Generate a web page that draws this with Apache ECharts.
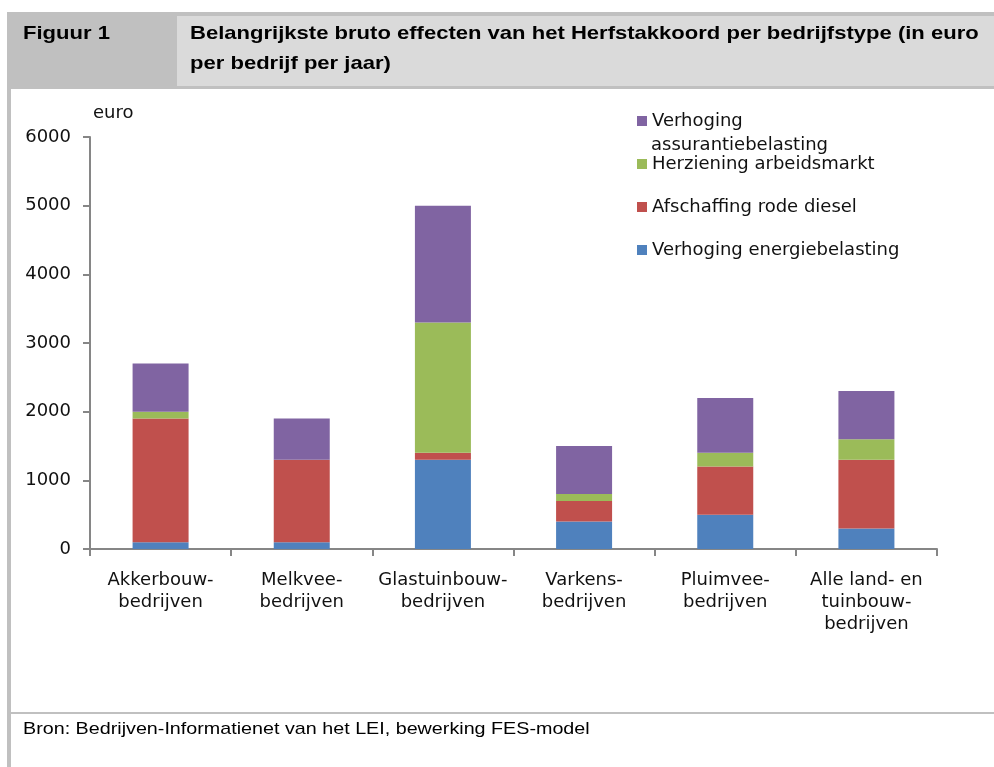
<!DOCTYPE html>
<html>
<head>
<meta charset="utf-8">
<script src="https://cdn.jsdelivr.net/npm/echarts@6/dist/echarts.min.js"></script>
<style>
  html, body { margin: 0; padding: 0; background: #fff; }
  #chart { width: 994px; height: 767px; }
</style>
</head>
<body>
<div id="chart"></div>
<script>
// categorieen (x-as)
const categories = [
  'Akkerbouw-\nbedrijven',
  'Melkvee-\nbedrijven',
  'Glastuinbouw-\nbedrijven',
  'Varkens-\nbedrijven',
  'Pluimvee-\nbedrijven',
  'Alle land- en\ntuinbouw-\nbedrijven'
];

// waarden in euro per bedrijf per jaar
const energiebelasting = [100, 100, 1300, 400, 500, 300];
const rodeDiesel = [1800, 1200, 100, 300, 700, 1000];
const arbeidsmarkt = [100, 0, 1900, 100, 200, 300];
const assurantiebelasting = [700, 600, 1700, 700, 800, 700];

const seriesNames = [
  'Verhoging energiebelasting',
  'Afschaffing rode diesel',
  'Herziening arbeidsmarkt',
  'Verhoging assurantiebelasting'
];
const yTicks = [0, 1000, 2000, 3000, 4000, 5000, 6000];

const colors = ['#4f81bd', '#c0504d', '#9bbb59', '#8064a2'];
const axisFont = 'DejaVu Sans, Verdana, sans-serif';
const headFont = 'Liberation Sans, Arial, sans-serif';

const chart = echarts.init(document.getElementById('chart'), null, { renderer: 'canvas' });

// losse legenda per item, zodat de posities overeenkomen met het origineel
function legendItem(name, centerY, label) {
  return {
    data: [name],
    left: 637,
    top: centerY - 11,
    padding: 0,
    orient: 'vertical',
    itemWidth: 10,
    itemHeight: 10,
    icon: 'rect',
    selectedMode: false,
    formatter: label || '{name}',
    textStyle: { fontFamily: axisFont, fontSize: 18, color: '#111', lineHeight: 22 }
  };
}

const seriesData = [energiebelasting, rodeDiesel, arbeidsmarkt, assurantiebelasting];

const option = {
  animation: false,
  backgroundColor: '#fff',
  color: colors,
  graphic: [
    // kopbalk
    { type: 'rect', shape: { x: 7, y: 12, width: 987, height: 77 }, style: { fill: '#c0c0c0' }, silent: true, z: -10 },
    { type: 'rect', shape: { x: 177, y: 16, width: 817, height: 70 }, style: { fill: '#dadada' }, silent: true, z: -9 },
    // linker rand
    { type: 'rect', shape: { x: 7, y: 89, width: 4, height: 678 }, style: { fill: '#c0c0c0' }, silent: true, z: -10 },
    // scheidingslijn bron
    { type: 'rect', shape: { x: 11, y: 712, width: 983, height: 2 }, style: { fill: '#c0c0c0' }, silent: true, z: -10 },
    // koptekst
    {
      type: 'text', x: 23, y: 34, scaleX: 1.16, silent: true,
      style: { text: 'Figuur 1', fontFamily: headFont, fontWeight: 'bold', fontSize: 19, fill: '#000', verticalAlign: 'middle' }
    },
    {
      type: 'text', x: 190, y: 19, scaleX: 1.16, silent: true,
      style: {
        text: 'Belangrijkste bruto effecten van het Herfstakkoord per bedrijfstype (in euro\nper bedrijf per jaar)',
        fontFamily: headFont, fontWeight: 'bold', fontSize: 19, lineHeight: 30, fill: '#000', verticalAlign: 'top'
      }
    },
    // bron
    {
      type: 'text', x: 23, y: 729, scaleX: 1.16, silent: true,
      style: { text: 'Bron: Bedrijven-Informatienet van het LEI, bewerking FES-model', fontFamily: headFont, fontSize: 17, fill: '#000', verticalAlign: 'middle' }
    },
    // tweede regel legenda
    {
      type: 'text', x: 651, y: 145, silent: true,
      style: { text: 'assurantiebelasting', fontFamily: axisFont, fontSize: 18, fill: '#111', verticalAlign: 'middle' }
    }
  ],
  legend: [
    legendItem(seriesNames[3], 121, 'Verhoging'),
    legendItem(seriesNames[2], 164),
    legendItem(seriesNames[1], 207),
    legendItem(seriesNames[0], 250)
  ],
  grid: { left: 90, right: 57, top: 137, bottom: 218 },
  xAxis: {
    type: 'category',
    data: categories,
    axisLine: { lineStyle: { color: '#868686', width: 2 } },
    axisTick: { show: true, length: 7, lineStyle: { color: '#868686', width: 2 } },
    axisLabel: {
      fontFamily: axisFont, fontSize: 18, color: '#111', lineHeight: 22,
      margin: 20, interval: 0
    }
  },
  yAxis: {
    type: 'value',
    min: yTicks[0],
    max: yTicks[yTicks.length - 1],
    interval: 1000,
    name: 'euro',
    nameLocation: 'end',
    nameGap: 15,
    nameTextStyle: { fontFamily: axisFont, fontSize: 18, color: '#111', align: 'left', padding: [0, 0, 0, 3] },
    splitLine: { show: false },
    axisLine: { show: true, lineStyle: { color: '#868686', width: 2 } },
    axisTick: { show: true, length: 7, lineStyle: { color: '#868686', width: 2 } },
    axisLabel: {
      fontFamily: axisFont, fontSize: 18, color: '#111', margin: 19,
      formatter: function (v) { return String(v); }
    }
  },
  series: seriesNames.map(function (name, i) {
    return {
      name: name,
      type: 'bar',
      stack: 'totaal',
      barWidth: 56,
      itemStyle: { color: colors[i] },
      data: seriesData[i]
    };
  })
};

chart.setOption(option);
</script>
</body>
</html>
